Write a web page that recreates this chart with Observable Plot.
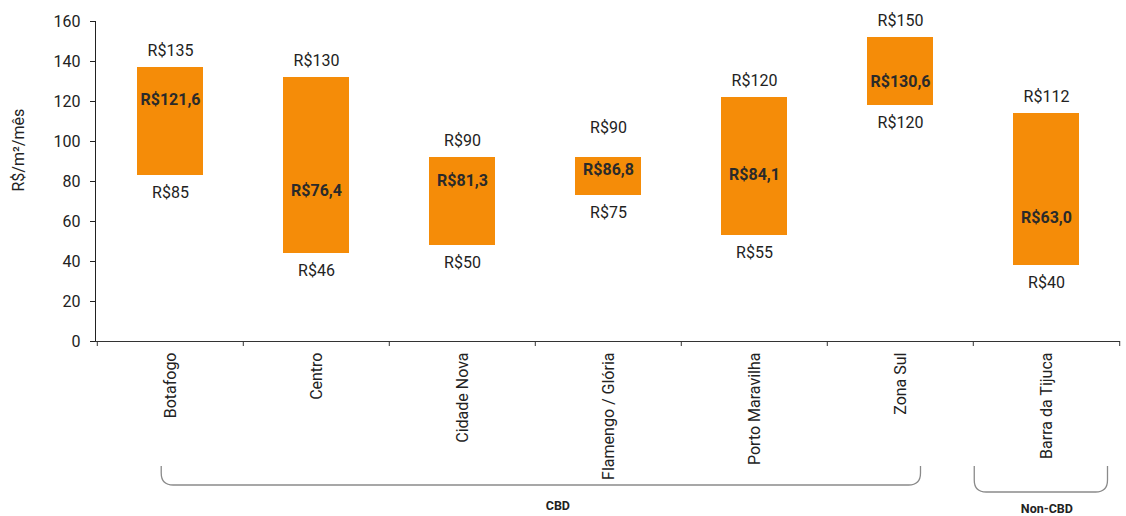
<!DOCTYPE html>
<html>
<head>
<meta charset="utf-8">
<script src="https://cdn.jsdelivr.net/npm/d3@7"></script>
<script src="https://cdn.jsdelivr.net/npm/@observablehq/plot@0.6"></script>
<style>
  html, body { margin: 0; padding: 0; background: #fff; }
  #chart { width: 1126px; height: 516px; }
  svg { font-family: Roboto, "Noto Sans", sans-serif; }
</style>
</head>
<body>
<div id="chart"></div>
<script>
// ---- Data ----
const categories = ["Botafogo", "Centro", "Cidade Nova", "Flamengo / Glória", "Porto Maravilha", "Zona Sul", "Barra da Tijuca"];
const minValues = [85, 46, 50, 75, 55, 120, 40];
const maxValues = [135, 130, 90, 90, 120, 150, 112];
const avgValues = [121.6, 76.4, 81.3, 86.8, 84.1, 130.6, 63.0];
const yTicks = [0, 20, 40, 60, 80, 100, 120, 140, 160];
const yLabel = "R$/m²/mês";
const groupNames = ["CBD", "Non-CBD"];
const groupFirst = ["Botafogo", "Barra da Tijuca"];
const groupLast = ["Zona Sul", "Barra da Tijuca"];

const rows = categories.map((c, i) => ({cat: c, min: minValues[i], max: maxValues[i], avg: avgValues[i]}));
const fmtInt = v => "R$" + v;
const fmtDec = v => "R$" + v.toFixed(1).replace(".", ",");

const W = 1126, H = 516;
const mL = 95, mR = 6, mT = 21, mB = 175;
const step = (W - mL - mR) / categories.length;
const ink = "#222";
const orange = "#F58C08";

const chart = Plot.plot({
  width: W, height: H,
  marginLeft: mL, marginRight: mR, marginTop: mT, marginBottom: mB,
  style: {fontFamily: "Roboto, 'Noto Sans', sans-serif", fontSize: "16px", color: ink, background: "#fff"},
  x: {domain: categories, paddingInner: 0.55, paddingOuter: 0.275, axis: null},
  y: {domain: [0, 160], ticks: yTicks, tickSize: 5, tickPadding: 10, label: null, line: true},
  marks: [
    Plot.barY(rows, {x: "cat", y1: "min", y2: "max", fill: orange, insetTop: -4, insetBottom: -4}),
    Plot.ruleY([0], {stroke: "#333"}),
    // x tick marks at band boundaries
    Plot.ruleX(categories, {x: d => d, y1: 0, y2: -2.5, dx: -step / 2, stroke: "#333"}),
    Plot.ruleX(categories.slice(-1), {x: d => d, y1: 0, y2: -2.5, dx: step / 2, stroke: "#333"}),
    // category labels
    Plot.text(categories, {x: d => d, y: 0, text: d => d, rotate: -90, textAnchor: "end", dy: 11, fontSize: 16, fill: ink}),
    // max labels
    Plot.text(rows.filter(d => d.max - d.avg >= 8), {x: "cat", y: "max", text: d => fmtInt(d.max), dy: -21, fontSize: 16, fill: ink}),
    Plot.text(rows.filter(d => d.max - d.avg < 8), {x: "cat", y: "max", text: d => fmtInt(d.max), dy: -34, fontSize: 16, fill: ink}),
    // min labels
    Plot.text(rows, {x: "cat", y: "min", text: d => fmtInt(d.min), dy: 21, fontSize: 16, fill: ink}),
    // average labels
    Plot.text(rows, {x: "cat", y: "avg", text: d => fmtDec(d.avg), dy: 2, fontSize: 16, fontWeight: "bold", fill: "#2a2a2a"}),
    // y axis title
    Plot.text([yLabel], {frameAnchor: "left", dx: -77, dy: 10, rotate: -90, text: d => d, fontSize: 16, fill: ink})
  ]
});

document.getElementById("chart").appendChild(chart);

// ---- group brackets below the category labels ----
const xs = chart.scale("x");
const bandStart = c => xs.apply(c) - (step - xs.bandwidth) / 2;
const svg = d3.select(chart);
const g = svg.append("g").attr("fill", "none").attr("stroke", "#8a8a8a").attr("stroke-width", 1.3);
const tg = svg.append("g").attr("font-family", "Roboto, 'Noto Sans', sans-serif").attr("font-weight", "bold")
  .attr("font-size", 12.5).attr("fill", ink).attr("text-anchor", "middle");

groupNames.forEach((name, i) => {
  let x0, x1, yb;
  if (groupFirst[i] !== groupLast[i]) {
    x0 = bandStart(groupFirst[i]) + 0.44 * step;
    x1 = bandStart(groupLast[i]) + 0.64 * step;
    yb = 485;
  } else {
    x0 = bandStart(groupFirst[i]) + 0.01 * step;
    x1 = bandStart(groupFirst[i]) + 0.92 * step;
    yb = 492;
  }
  const yt = 466, r = 12;
  g.append("path").attr("d",
    `M${x0},${yt} V${yb - r} Q${x0},${yb} ${x0 + r},${yb} H${x1 - r} Q${x1},${yb} ${x1},${yb - r} V${yt}`);
  tg.append("text").attr("x", (x0 + x1) / 2 + (i === 0 ? 17 : 6)).attr("y", yb + 18 + (i === 0 ? 4 : 0))
    .attr("dominant-baseline", "middle").text(name);
});
</script>
</body>
</html>
